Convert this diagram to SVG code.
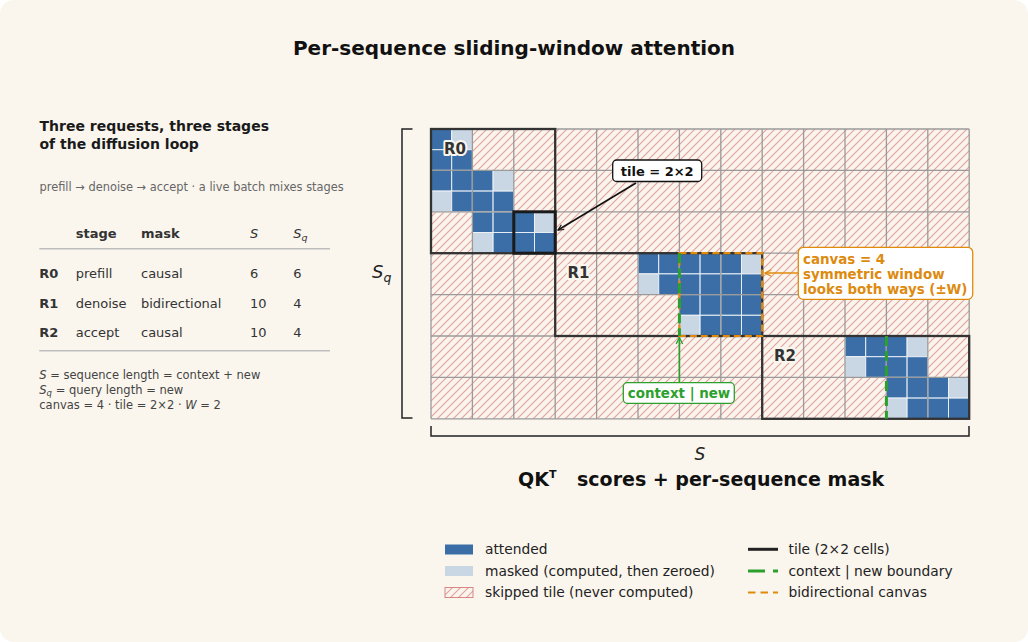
<svg xmlns="http://www.w3.org/2000/svg" width="1028" height="642" viewBox="0 0 1028 642">
<style>
text{font-family:"DejaVu Sans","Liberation Sans",sans-serif;}
.b{font-weight:bold;}
.it{font-style:italic;}
.a{fill:#3b6ea6;stroke:#e8eef5;stroke-width:1;}
.m{fill:#c9d6e4;stroke:#eef2f7;stroke-width:1;}
.tg{stroke:#9a9a9a;stroke-width:1.3;fill:none;}
.rbox{fill:none;stroke:#333;stroke-width:2.3;}
.lbl{font-size:15px;font-weight:bold;fill:#333;paint-order:stroke;stroke:#faf6ee;stroke-width:4;stroke-linejoin:round;text-anchor:middle;}
.tb{font-size:13px;fill:#333;}
.fn{font-size:11.5px;fill:#444;}
.lg{font-size:13.8px;fill:#222;}
.gdash{stroke:#2ca02c;stroke-width:3;stroke-dasharray:10,5;fill:none;}
.odash{stroke:#e08a0b;stroke-width:2.2;stroke-dasharray:7,4;fill:none;}
</style>
<defs>
<pattern id="hatch" patternUnits="userSpaceOnUse" width="8" height="8">
<rect width="8" height="8" fill="#faf5ec"/>
<path d="M-1,1 L1,-1 M0,8 L8,0 M7,9 L9,7" stroke="#e2a0a0" stroke-width="1.1"/>
</pattern>
<marker id="ak" viewBox="0 0 10 10" refX="9" refY="5" markerWidth="7" markerHeight="7" orient="auto" markerUnits="userSpaceOnUse">
<path d="M1,1 L9,5 L1,9" fill="none" stroke="#111" stroke-width="1.6"/>
</marker>
<marker id="ao" viewBox="0 0 10 10" refX="9" refY="5" markerWidth="8" markerHeight="8" orient="auto" markerUnits="userSpaceOnUse">
<path d="M1,1 L9,5 L1,9" fill="none" stroke="#e08a0b" stroke-width="1.6"/>
</marker>
<marker id="ag" viewBox="0 0 10 10" refX="9" refY="5" markerWidth="8" markerHeight="8" orient="auto" markerUnits="userSpaceOnUse">
<path d="M1,1 L9,5 L1,9" fill="none" stroke="#2ca02c" stroke-width="1.6"/>
</marker>
</defs>

<rect width="1028" height="642" fill="#ffffff"/>
<rect x="0" y="0" width="1028" height="642" rx="14" fill="#faf6ee"/>

<text x="514" y="55" class="b" font-size="20" text-anchor="middle" fill="#111">Per-sequence sliding-window attention</text>

<g id="left-panel">
<text x="39.5" y="131" class="b" font-size="14" fill="#1a1a1a">Three requests, three stages</text>
<text x="39.5" y="148.5" class="b" font-size="14" fill="#1a1a1a">of the diffusion loop</text>
<text x="39.5" y="191" font-size="11.4" fill="#666">prefill → denoise → accept · a live batch mixes stages</text>
<text x="75.7" y="237.5" class="tb b" fill="#1a1a1a">stage</text>
<text x="141" y="237.5" class="tb b" fill="#1a1a1a">mask</text>
<text x="250" y="237.5" class="tb it">S</text>
<text x="293.3" y="237.5" class="tb it">S<tspan font-size="9.5" dy="3">q</tspan></text>
<line x1="39.3" y1="248.7" x2="330" y2="248.7" stroke="#bdbdbd" stroke-width="1.5"/>
<text x="39.3" y="278.3" class="tb b">R0</text>
<text x="75.7" y="278.3" class="tb">prefill</text>
<text x="141" y="278.3" class="tb">causal</text>
<text x="250" y="278.3" class="tb">6</text>
<text x="293.3" y="278.3" class="tb">6</text>
<text x="39.3" y="307.7" class="tb b" fill="#dd8a10">R1</text>
<text x="75.7" y="307.7" class="tb">denoise</text>
<text x="141" y="307.7" class="tb" fill="#dd8a10">bidirectional</text>
<text x="250" y="307.7" class="tb">10</text>
<text x="293.3" y="307.7" class="tb">4</text>
<text x="39.3" y="337" class="tb b">R2</text>
<text x="75.7" y="337" class="tb">accept</text>
<text x="141" y="337" class="tb">causal</text>
<text x="250" y="337" class="tb">10</text>
<text x="293.3" y="337" class="tb">4</text>
<line x1="39.3" y1="350.7" x2="330" y2="350.7" stroke="#bdbdbd" stroke-width="1.5"/>
<text x="39.3" y="378.5" class="fn"><tspan class="it">S</tspan> = sequence length = context + new</text>
<text x="39.3" y="393.5" class="fn"><tspan class="it">S</tspan><tspan class="it" font-size="8.5" dy="2.5">q</tspan><tspan dy="-2.5"> = query length = new</tspan></text>
<text x="39.3" y="408.5" class="fn">canvas = 4 · tile = 2×2 · <tspan class="it">W</tspan> = 2</text>
</g>

<g id="grid-background">
<rect x="431" y="129" width="538.2" height="289.8" fill="url(#hatch)"/>
</g>

<g id="R0">
<rect class="a" x="431" y="129" width="20.7" height="20.7"/>
<rect class="m" x="451.7" y="129" width="20.7" height="20.7"/>
<rect class="a" x="431" y="149.7" width="20.7" height="20.7"/>
<rect class="a" x="451.7" y="149.7" width="20.7" height="20.7"/>
<rect class="a" x="431" y="170.4" width="20.7" height="20.7"/>
<rect class="a" x="451.7" y="170.4" width="20.7" height="20.7"/>
<rect class="a" x="472.4" y="170.4" width="20.7" height="20.7"/>
<rect class="m" x="493.1" y="170.4" width="20.7" height="20.7"/>
<rect class="m" x="431" y="191.1" width="20.7" height="20.7"/>
<rect class="a" x="451.7" y="191.1" width="20.7" height="20.7"/>
<rect class="a" x="472.4" y="191.1" width="20.7" height="20.7"/>
<rect class="a" x="493.1" y="191.1" width="20.7" height="20.7"/>
<rect class="a" x="472.4" y="211.8" width="20.7" height="20.7"/>
<rect class="a" x="493.1" y="211.8" width="20.7" height="20.7"/>
<rect class="a" x="513.8" y="211.8" width="20.7" height="20.7"/>
<rect class="m" x="534.5" y="211.8" width="20.7" height="20.7"/>
<rect class="m" x="472.4" y="232.5" width="20.7" height="20.7"/>
<rect class="a" x="493.1" y="232.5" width="20.7" height="20.7"/>
<rect class="a" x="513.8" y="232.5" width="20.7" height="20.7"/>
<rect class="a" x="534.5" y="232.5" width="20.7" height="20.7"/>
</g>

<g id="R1">
<rect class="a" x="638" y="253.2" width="20.7" height="20.7"/>
<rect class="a" x="658.7" y="253.2" width="20.7" height="20.7"/>
<rect class="a" x="679.4" y="253.2" width="20.7" height="20.7"/>
<rect class="a" x="700.1" y="253.2" width="20.7" height="20.7"/>
<rect class="a" x="720.8" y="253.2" width="20.7" height="20.7"/>
<rect class="m" x="741.5" y="253.2" width="20.7" height="20.7"/>
<rect class="m" x="638" y="273.9" width="20.7" height="20.7"/>
<rect class="a" x="658.7" y="273.9" width="20.7" height="20.7"/>
<rect class="a" x="679.4" y="273.9" width="20.7" height="20.7"/>
<rect class="a" x="700.1" y="273.9" width="20.7" height="20.7"/>
<rect class="a" x="720.8" y="273.9" width="20.7" height="20.7"/>
<rect class="a" x="741.5" y="273.9" width="20.7" height="20.7"/>
<rect class="a" x="679.4" y="294.6" width="20.7" height="20.7"/>
<rect class="a" x="700.1" y="294.6" width="20.7" height="20.7"/>
<rect class="a" x="720.8" y="294.6" width="20.7" height="20.7"/>
<rect class="a" x="741.5" y="294.6" width="20.7" height="20.7"/>
<rect class="m" x="679.4" y="315.3" width="20.7" height="20.7"/>
<rect class="a" x="700.1" y="315.3" width="20.7" height="20.7"/>
<rect class="a" x="720.8" y="315.3" width="20.7" height="20.7"/>
<rect class="a" x="741.5" y="315.3" width="20.7" height="20.7"/>
</g>

<g id="R2">
<rect class="a" x="845" y="336" width="20.7" height="20.7"/>
<rect class="a" x="865.7" y="336" width="20.7" height="20.7"/>
<rect class="a" x="886.4" y="336" width="20.7" height="20.7"/>
<rect class="m" x="907.1" y="336" width="20.7" height="20.7"/>
<rect class="m" x="845" y="356.7" width="20.7" height="20.7"/>
<rect class="a" x="865.7" y="356.7" width="20.7" height="20.7"/>
<rect class="a" x="886.4" y="356.7" width="20.7" height="20.7"/>
<rect class="a" x="907.1" y="356.7" width="20.7" height="20.7"/>
<rect class="a" x="886.4" y="377.4" width="20.7" height="20.7"/>
<rect class="a" x="907.1" y="377.4" width="20.7" height="20.7"/>
<rect class="a" x="927.8" y="377.4" width="20.7" height="20.7"/>
<rect class="m" x="948.5" y="377.4" width="20.7" height="20.7"/>
<rect class="m" x="886.4" y="398.1" width="20.7" height="20.7"/>
<rect class="a" x="907.1" y="398.1" width="20.7" height="20.7"/>
<rect class="a" x="927.8" y="398.1" width="20.7" height="20.7"/>
<rect class="a" x="948.5" y="398.1" width="20.7" height="20.7"/>
</g>

<g id="tile-grid">
<path class="tg" d="M431,129V418.8 M472.4,129V418.8 M513.8,129V418.8 M555.2,129V418.8 M596.6,129V418.8 M638,129V418.8 M679.4,129V418.8 M720.8,129V418.8 M762.2,129V418.8 M803.6,129V418.8 M845,129V418.8 M886.4,129V418.8 M927.8,129V418.8 M969.2,129V418.8 M431,129H969.2 M431,170.4H969.2 M431,211.8H969.2 M431,253.2H969.2 M431,294.6H969.2 M431,336H969.2 M431,377.4H969.2 M431,418.8H969.2"/>
</g>

<g id="request-boxes">
<rect class="rbox" x="431" y="129" width="124.2" height="124.2"/>
<rect class="rbox" x="555.2" y="253.2" width="207" height="82.8"/>
<rect class="rbox" x="762.2" y="336" width="207" height="82.8"/>
<rect x="513.8" y="211.8" width="41.4" height="41.4" fill="none" stroke="#1a1a1a" stroke-width="3"/>
<rect class="odash" x="679.4" y="253.2" width="82.8" height="82.8"/>
<line class="gdash" x1="679.4" y1="253.2" x2="679.4" y2="336"/>
<line class="gdash" x1="886.4" y1="336" x2="886.4" y2="418.8"/>
<text x="455" y="153.5" class="lbl">R0</text>
<text x="578.5" y="277.5" class="lbl">R1</text>
<text x="785" y="360.5" class="lbl">R2</text>
</g>

<g id="axes">
<path d="M412.5,129H402V418H412.5" fill="none" stroke="#222" stroke-width="1.5"/>
<text x="372" y="278" class="it" font-size="18" fill="#222">S<tspan font-size="12.5" dy="4">q</tspan></text>
<path d="M431,426V436H969V426" fill="none" stroke="#222" stroke-width="1.5"/>
<text x="700" y="460" class="it" font-size="17" fill="#222" text-anchor="middle">S</text>
<text x="518" y="486" class="b" font-size="19" fill="#111">QK<tspan font-size="11" dy="-8">T</tspan><tspan x="577" dy="8">scores + per-sequence mask</tspan></text>
</g>

<g id="connectors">
<line x1="636" y1="183" x2="558" y2="230" stroke="#111" stroke-width="1.6" marker-end="url(#ak)"/>
<line x1="798" y1="273" x2="765" y2="273" stroke="#e08a0b" stroke-width="1.6" marker-end="url(#ao)"/>
<line x1="679.4" y1="383" x2="679.4" y2="337.5" stroke="#2ca02c" stroke-width="1.6" marker-end="url(#ag)"/>
</g>

<g id="note-tile">
<rect x="612.7" y="160" width="89" height="21.5" rx="4" fill="#fff" stroke="#111" stroke-width="1.3"/>
<text x="657.2" y="175.5" class="b" font-size="13" fill="#111" text-anchor="middle">tile = 2×2</text>
</g>

<g id="note-canvas">
<rect x="798.3" y="247.3" width="174.4" height="52" rx="5" fill="#fff" stroke="#e08a0b" stroke-width="1.3"/>
<text x="803" y="263.5" class="b" font-size="13.4" fill="#dd8a10">canvas = 4</text>
<text x="803" y="278.5" class="b" font-size="13.4" fill="#dd8a10">symmetric window</text>
<text x="803" y="293.5" class="b" font-size="13.4" fill="#dd8a10">looks both ways (±W)</text>
</g>

<g id="note-context">
<rect x="623.3" y="382.7" width="111" height="20.6" rx="4" fill="#fff" stroke="#2ca02c" stroke-width="1.3"/>
<text x="679" y="397.5" class="b" font-size="13.4" fill="#2ca02c" text-anchor="middle">context | new</text>
</g>

<g id="legend">
<rect x="445" y="544.5" width="28" height="10" fill="#3b6ea6"/>
<text x="485" y="554" class="lg">attended</text>
<rect x="445" y="566" width="28" height="10" fill="#c9d6e4"/>
<text x="485" y="575.5" class="lg">masked (computed, then zeroed)</text>
<rect x="445" y="587.5" width="28" height="10" fill="url(#hatch)" stroke="#d98585" stroke-width="1"/>
<text x="485" y="597" class="lg">skipped tile (never computed)</text>
<line x1="748" y1="549.3" x2="778" y2="549.3" stroke="#222" stroke-width="3"/>
<text x="788.5" y="554" class="lg">tile (2×2 cells)</text>
<line x1="748" y1="571" x2="778" y2="571" stroke="#2ca02c" stroke-width="3" stroke-dasharray="17,8"/>
<text x="788.5" y="575.5" class="lg">context | new boundary</text>
<line x1="748" y1="592.5" x2="778" y2="592.5" stroke="#e08a0b" stroke-width="2.2" stroke-dasharray="7.5,5"/>
<text x="788.5" y="597" class="lg">bidirectional canvas</text>
</g>
</svg>
